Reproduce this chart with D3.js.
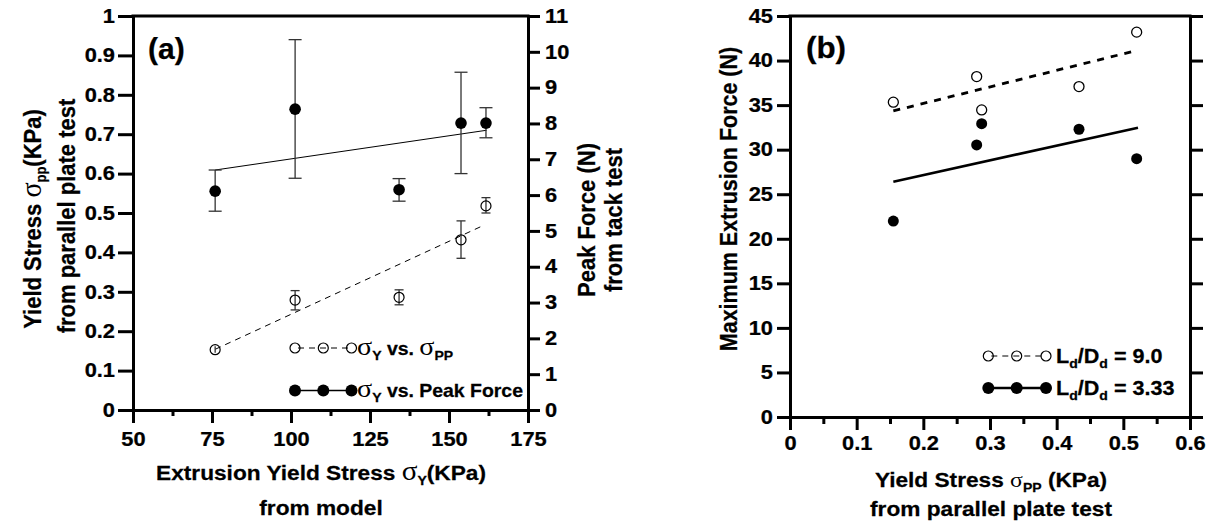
<!DOCTYPE html>
<html><head><meta charset="utf-8">
<script src="https://cdn.jsdelivr.net/npm/d3@7"></script>
<style>
body{margin:0;background:#fff}
svg{display:block}
text{font-family:"Liberation Sans",Arial,sans-serif;font-weight:bold;fill:#000;stroke:#000;stroke-width:0.25px}
</style>
</head><body>
<svg id="chart" width="1217" height="527"></svg>
<script>
// ---------------- Panel (a) data ----------------
const sigmaY      = [76, 101.3, 134.2, 153.8, 161.7];          // extrusion yield stress (KPa)
const peakForce   = [6.11, 8.40, 6.15, 8.01, 8.01];            // N
const peakLo      = [5.55, 6.47, 5.83, 6.60, 7.60];
const peakHi      = [6.70, 10.34, 6.46, 9.43, 8.44];
const sigmaPP     = [0.153, 0.279, 0.286, 0.432, 0.518];       // KPa
const sigmaPPLo   = [0.145, 0.254, 0.267, 0.385, 0.500];
const sigmaPPHi   = [0.162, 0.303, 0.305, 0.480, 0.539];
const peakFitX    = [76, 161.9];
const peakFitY    = [6.70, 7.81];
const ppFitX      = [76, 160.5];
const ppFitY      = [0.154, 0.467];
const aXTicks     = [50, 75, 100, 125, 150, 175];
const aXMinor     = [62.5, 87.5, 112.5, 137.5, 162.5];
const aYLTicks    = [0, 0.1, 0.2, 0.3, 0.4, 0.5, 0.6, 0.7, 0.8, 0.9, 1];
const aYRTicks    = [0, 1, 2, 3, 4, 5, 6, 7, 8, 9, 10, 11];

// ---------------- Panel (b) data ----------------
const ppB         = [0.155, 0.280, 0.2875, 0.4335, 0.520];     // KPa
const force90     = [35.33, 38.2, 34.46, 37.08, 43.19];        // Ld/Dd = 9.0
const force333    = [21.99, 30.53, 32.92, 32.29, 28.99];       // Ld/Dd = 3.33
const fit90X      = [0.155, 0.513];
const fit90Y      = [34.35, 41.0];
const fit333X     = [0.155, 0.522];
const fit333Y     = [26.4, 32.47];
const bXTicks     = [0, 0.1, 0.2, 0.3, 0.4, 0.5, 0.6];
const bXMinor     = [0.05, 0.15, 0.25, 0.35, 0.45, 0.55];
const bYTicks     = [0, 5, 10, 15, 20, 25, 30, 35, 40, 45];

const svg = d3.select("#chart");
const AX_W = 3, TICK_FS = "19.5px", TITLE_FS = "21px", SX = 1.12, SXT = 1.08;

function styleAxis(g) {
  g.select(".domain").attr("stroke", "#000").attr("stroke-width", AX_W).attr("stroke-linecap", "square");
  g.selectAll(".tick line").attr("stroke", "#000").attr("stroke-width", AX_W);
  g.selectAll(".tick text").each(function () {
    const t = d3.select(this);
    const x = +t.attr("x") || 0, y = +t.attr("y") || 0;
    t.attr("x", 0).attr("y", 0).attr("transform", `translate(${x},${y}) scale(${SX},1)`)
      .attr("font-size", TICK_FS).attr("font-family", '"Liberation Sans",Arial,sans-serif')
      .attr("font-weight", "bold").attr("fill", "#000");
  });
}
function rich(g, x, y, parts, rotate, anchor, sx) {
  sx = sx || SXT;
  const tr = rotate ? `translate(${x},${y}) rotate(${rotate}) scale(1,${sx})` : `translate(${x},${y}) scale(${sx},1)`;
  const t = g.append("text").attr("text-anchor", anchor || "middle").attr("transform", tr);
  parts.forEach(p => {
    const s = t.append("tspan").text(p.t);
    if (p.fs) s.attr("font-size", p.fs);
    if (p.w) s.attr("font-weight", p.w).style("stroke-width", "0px");
    if (p.dy) s.attr("dy", p.dy);
    if (p.dx) s.attr("dx", p.dx);
    if (p.ff) s.attr("font-family", p.ff);
  });
  return t;
}
const SIG = '"Liberation Serif","DejaVu Serif",serif';

// ================= Panel (a) =================
const ax = d3.scaleLinear().domain([50, 175]).range([133, 528]);
const ayL = d3.scaleLinear().domain([0, 1]).range([410, 16]);
const ayR = d3.scaleLinear().domain([0, 11]).range([410, 16]);
const pa = svg.append("g");

pa.append("line").attr("x1", ax(50)).attr("x2", ax(175)).attr("y1", ayL(1)).attr("y2", ayL(1))
  .attr("stroke", "#000").attr("stroke-width", AX_W).attr("stroke-linecap", "square");

const aBottomMinor = pa.append("g").attr("transform", `translate(0,${ayL(0)})`)
  .call(d3.axisBottom(ax).tickValues(aXMinor).tickSize(6).tickSizeOuter(0).tickFormat(""));
styleAxis(aBottomMinor);
const aBottom = pa.append("g").attr("transform", `translate(0,${ayL(0)})`)
  .call(d3.axisBottom(ax).tickValues(aXTicks).tickSize(13).tickSizeOuter(0).tickPadding(9).tickFormat(d3.format("d")));
styleAxis(aBottom);
const aLeft = pa.append("g").attr("transform", `translate(${ax(50)},0)`)
  .call(d3.axisLeft(ayL).tickValues(aYLTicks).tickSize(15).tickSizeOuter(0).tickPadding(3).tickFormat(d => d === 0 ? "0" : d === 1 ? "1" : d3.format(".1f")(d)));
styleAxis(aLeft);
const aRight = pa.append("g").attr("transform", `translate(${ax(175)},0)`)
  .call(d3.axisRight(ayR).tickValues(aYRTicks).tickSize(12).tickSizeOuter(0).tickPadding(5).tickFormat(d3.format("d")));
styleAxis(aRight);

const lineA_L = d3.line().x((d, i) => ax(ppFitX[i])).y(d => ayL(d));
pa.append("path").datum(ppFitY).attr("d", lineA_L).attr("fill", "none")
  .attr("stroke", "#000").attr("stroke-width", 1).attr("stroke-dasharray", "6,5");
const lineA_R = d3.line().x((d, i) => ax(peakFitX[i])).y(d => ayR(d));
pa.append("path").datum(peakFitY).attr("d", lineA_R).attr("fill", "none")
  .attr("stroke", "#000").attr("stroke-width", 1);

function errBars(g, xs, lo, hi, xS, yS, cap) {
  xs.forEach((xv, i) => {
    const x = xS(xv);
    g.append("line").attr("x1", x).attr("x2", x).attr("y1", yS(lo[i])).attr("y2", yS(hi[i]))
      .attr("stroke", "#333").attr("stroke-width", 1.3);
    [lo[i], hi[i]].forEach(v => g.append("line").attr("x1", x - cap).attr("x2", x + cap)
      .attr("y1", yS(v)).attr("y2", yS(v)).attr("stroke", "#333").attr("stroke-width", 1.3));
  });
}
errBars(pa, sigmaY, peakLo, peakHi, ax, ayR, 6.5);
errBars(pa, sigmaY.slice(1), sigmaPPLo.slice(1), sigmaPPHi.slice(1), ax, ayL, 4.5);
pa.append("line").attr("x1", ax(sigmaY[0])).attr("x2", ax(sigmaY[0]))
  .attr("y1", ayL(sigmaPPLo[0])).attr("y2", ayL(sigmaPPHi[0])).attr("stroke", "#333").attr("stroke-width", 1.3);

pa.selectAll("circle.pk").data(peakForce).join("circle").attr("class", "pk")
  .attr("cx", (d, i) => ax(sigmaY[i])).attr("cy", d => ayR(d)).attr("r", 5.8).attr("fill", "#000");
pa.selectAll("circle.pp").data(sigmaPP).join("circle").attr("class", "pp")
  .attr("cx", (d, i) => ax(sigmaY[i])).attr("cy", d => ayL(d)).attr("r", 5).attr("fill", "none")
  .attr("stroke", "#000").attr("stroke-width", 1.2);

// legend (a)
const legAx = [295, 323.3, 351.5];
pa.append("line").attr("x1", legAx[0]).attr("x2", legAx[2]).attr("y1", 348).attr("y2", 348)
  .attr("stroke", "#000").attr("stroke-width", 1).attr("stroke-dasharray", "6,5").attr("stroke-dashoffset", -3);
legAx.forEach(x => pa.append("circle").attr("cx", x).attr("cy", 348).attr("r", 5).attr("fill", "none").attr("stroke", "#000").attr("stroke-width", 1.2));
pa.append("line").attr("x1", legAx[0]).attr("x2", legAx[2]).attr("y1", 390.5).attr("y2", 390.5)
  .attr("stroke", "#000").attr("stroke-width", 1.3);
legAx.forEach(x => pa.append("circle").attr("cx", x).attr("cy", 390.5).attr("r", 6).attr("fill", "#000"));
rich(pa, 357, 355, [
  {t: "σ", fs: "26px", w: "normal", ff: SIG},
  {t: "Y", fs: "13px", dy: 5},
  {t: " vs. ", fs: "18px", dy: -5},
  {t: "σ", fs: "26px", w: "normal", ff: SIG},
  {t: "PP", fs: "13px", dy: 5}
], null, "start");
rich(pa, 357, 397, [
  {t: "σ", fs: "26px", w: "normal", ff: SIG},
  {t: "Y", fs: "13px", dy: 5},
  {t: " vs. Peak Force", fs: "18px", dy: -5}
], null, "start");

pa.append("text").attr("x", 148).attr("y", 59).attr("font-size", "30px")
  .attr("font-family", '"Open Sans","Noto Sans",sans-serif').attr("font-weight", "bold").text("(a)");

// titles (a)
rich(pa, 321, 480, [
  {t: "Extrusion Yield Stress ", fs: TITLE_FS},
  {t: "σ", fs: "27px", w: "normal", ff: SIG},
  {t: "Y", fs: "13px", dy: 5},
  {t: "(KPa)", fs: TITLE_FS, dy: -5}
]);
rich(pa, 321, 515, [{t: "from model", fs: TITLE_FS}]);
rich(pa, 41, 219, [
  {t: "Yield Stress ", fs: "22px"},
  {t: "σ", fs: "28px", w: "normal", ff: SIG},
  {t: "pp", fs: "13px", dy: 5},
  {t: "(KPa)", fs: "22px", dy: -5}
], -90);
rich(pa, 75, 216, [{t: "from parallel plate test", fs: "22px"}], -90);
rich(pa, 595, 220, [{t: "Peak Force (N)", fs: "22px"}], -90);
rich(pa, 622, 220, [{t: "from tack test", fs: "22px"}], -90);

// ================= Panel (b) =================
const bx = d3.scaleLinear().domain([0, 0.6]).range([790, 1190]);
const by = d3.scaleLinear().domain([0, 45]).range([417, 16]);
const pb = svg.append("g");

pb.append("line").attr("x1", bx(0)).attr("x2", bx(0.6)).attr("y1", by(45)).attr("y2", by(45))
  .attr("stroke", "#000").attr("stroke-width", AX_W).attr("stroke-linecap", "square");
const bBottomMinor = pb.append("g").attr("transform", `translate(0,${by(0)})`)
  .call(d3.axisBottom(bx).tickValues(bXMinor).tickSize(7).tickSizeOuter(0).tickFormat(""));
styleAxis(bBottomMinor);
const bBottom = pb.append("g").attr("transform", `translate(0,${by(0)})`)
  .call(d3.axisBottom(bx).tickValues(bXTicks).tickSize(13).tickSizeOuter(0).tickPadding(6).tickFormat(d => d === 0 ? "0" : d3.format(".1f")(d)));
styleAxis(bBottom);
const bLeft = pb.append("g").attr("transform", `translate(${bx(0)},0)`)
  .call(d3.axisLeft(by).tickValues(bYTicks).tickSize(13).tickSizeOuter(0).tickPadding(4).tickFormat(d3.format("d")));
styleAxis(bLeft);
const bRight = pb.append("g").attr("transform", `translate(${bx(0.6)},0)`)
  .call(d3.axisRight(by).tickValues(bYTicks).tickSize(13).tickSizeOuter(0).tickFormat(""));
styleAxis(bRight);

const lineB = (xs) => d3.line().x((d, i) => bx(xs[i])).y(d => by(d));
pb.append("path").datum(fit90Y).attr("d", lineB(fit90X)).attr("fill", "none")
  .attr("stroke", "#000").attr("stroke-width", 2.8).attr("stroke-dasharray", "7,7");
pb.append("path").datum(fit333Y).attr("d", lineB(fit333X)).attr("fill", "none")
  .attr("stroke", "#000").attr("stroke-width", 2.6);

pb.selectAll("circle.o").data(force90).join("circle").attr("class", "o")
  .attr("cx", (d, i) => bx(ppB[i])).attr("cy", d => by(d)).attr("r", 5).attr("fill", "#fff")
  .attr("stroke", "#000").attr("stroke-width", 1.3);
pb.selectAll("circle.f").data(force333).join("circle").attr("class", "f")
  .attr("cx", (d, i) => bx(ppB[i])).attr("cy", d => by(d)).attr("r", 5.5).attr("fill", "#000");

// legend (b)
const legBx = [988.3, 1016.7, 1046];
pb.append("line").attr("x1", legBx[0]).attr("x2", legBx[2]).attr("y1", 356).attr("y2", 356)
  .attr("stroke", "#000").attr("stroke-width", 1).attr("stroke-dasharray", "6,5").attr("stroke-dashoffset", -3);
legBx.forEach(x => pb.append("circle").attr("cx", x).attr("cy", 356).attr("r", 5).attr("fill", "none").attr("stroke", "#000").attr("stroke-width", 1.2));
pb.append("line").attr("x1", legBx[0]).attr("x2", legBx[2]).attr("y1", 388).attr("y2", 388)
  .attr("stroke", "#000").attr("stroke-width", 2.6);
legBx.forEach(x => pb.append("circle").attr("cx", x).attr("cy", 388).attr("r", 6).attr("fill", "#000"));
rich(pb, 1056, 363, [
  {t: "L", fs: "20px"}, {t: "d", fs: "13px", dy: 5}, {t: "/D", fs: "20px", dy: -5},
  {t: "d", fs: "13px", dy: 5}, {t: " = 9.0", fs: "20px", dy: -5}
], null, "start");
rich(pb, 1056, 395, [
  {t: "L", fs: "20px"}, {t: "d", fs: "13px", dy: 5}, {t: "/D", fs: "20px", dy: -5},
  {t: "d", fs: "13px", dy: 5}, {t: " = 3.33", fs: "20px", dy: -5}
], null, "start");

rich(pb, 806, 58, [{t: "(b)", fs: "29px"}], null, "start");

rich(pb, 991, 487, [
  {t: "Yield Stress ", fs: TITLE_FS},
  {t: "σ", fs: "22px", w: "normal", ff: SIG},
  {t: "PP", fs: "13px", dy: 5},
  {t: " (KPa)", fs: TITLE_FS, dy: -5}
]);
rich(pb, 991, 516, [{t: "from parallel plate test", fs: TITLE_FS}]);
rich(pb, 737, 199, [{t: "Maximum Extrusion Force (N)", fs: "21.5px"}], -90);
</script>
</body></html>
